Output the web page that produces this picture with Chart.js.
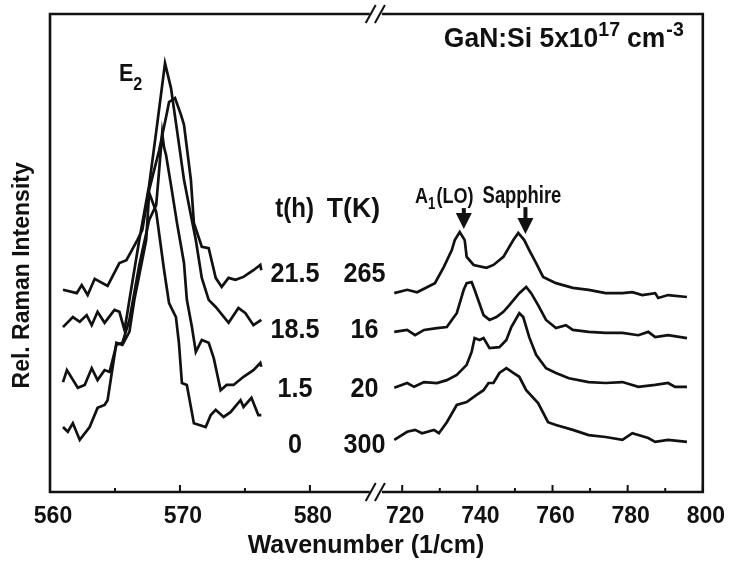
<!DOCTYPE html>
<html><head><meta charset="utf-8">
<script src="https://cdn.jsdelivr.net/npm/chart.js@4"></script>
<style>html,body{margin:0;padding:0;background:#fff}</style>
</head><body>
<canvas id="c" width="733" height="564"></canvas>
<script>
// ---------- tick values ----------
const leftTicks = [560, 570, 580];
const leftMinorTicks = [565, 575];
const rightTicks = [720, 740, 760, 780, 800];
const rightMinorTicks = [730, 750, 770, 790];

// ---------- series labels ----------
const tHours = ['21.5', '18.5', '1.5', '0'];
const tempK = ['265', '16', '20', '300'];

// ---------- E2 region (560-577 cm-1) ----------
const leftX_215 = [561.0,562.06,562.44,562.9,563.44,564.43,565.34,565.88,566.72,567.1,567.63,568.4,569.01,569.16,569.62,570.08,570.31,570.84,571.07,571.68,572.21,572.75,573.21,573.74,574.27,574.89,575.65,576.18,576.26];
const leftY_215 = [42.3,41.6,43.3,41.2,44.6,43.1,47.9,48.5,52.7,54.8,63.2,71.5,79.5,81.6,82.4,78.9,76.8,65.3,56.3,51.3,51.0,44.8,42.9,44.8,44.4,45.0,46.4,47.5,46.4];

const leftX_185 = [561.0,561.76,562.29,562.82,563.21,563.66,564.2,564.96,565.34,565.73,565.95,566.11,566.87,567.63,568.24,568.85,569.31,569.77,570.31,570.84,571.22,571.68,572.21,572.75,573.74,574.5,575.04,575.65,576.26];
const leftY_185 = [34.5,36.6,35.6,37.0,34.9,37.7,35.4,38.1,37.7,33.9,37.4,40.2,52.7,64.2,76.8,89.7,84.5,75.7,65.3,57.9,52.7,44.8,40.2,38.7,35.4,38.5,37.4,34.9,36.0];

const leftX_15 = [561.0,561.3,562.14,562.67,563.21,563.66,564.2,564.58,565.11,565.57,566.11,566.87,567.63,568.17,568.4,568.63,568.78,568.93,569.31,569.77,570.31,570.53,570.92,571.22,571.68,572.21,572.6,573.13,573.59,574.12,574.89,575.65,576.18,576.26];
const leftY_15 = [23.0,25.5,21.8,22.4,25.9,23.4,25.5,25.1,30.8,31.2,36.0,47.5,56.9,60.0,67.4,75.1,72.0,70.5,64.2,56.3,47.9,40.2,34.5,29.3,31.8,31.2,28.0,21.3,22.4,22.4,24.1,25.5,27.0,26.2];

const leftX_0 = [561.0,561.37,561.76,562.29,563.05,563.66,564.2,564.43,565.11,565.57,566.11,566.49,566.87,567.4,567.63,568.17,568.78,569.16,569.69,569.92,570.15,570.53,571.07,571.98,572.37,572.75,573.36,573.89,574.66,574.89,575.5,576.03,576.26];
const leftY_0 = [13.6,12.6,14.4,10.9,13.6,17.6,18.2,19.2,31.2,30.8,33.5,40.2,45.4,52.7,62.6,58.6,46.4,39.5,36.6,31.2,22.8,22.4,14.4,13.6,16.1,17.2,15.7,16.7,19.2,17.8,19.7,16.1,16.1];

// ---------- A1(LO) / sapphire region (718-796 cm-1) ----------
const rightX_215 = [717.89,721.32,723.96,728.71,731.09,733.2,733.99,735.31,736.63,737.16,739.01,742.44,744.29,746.93,749.57,750.89,752.48,753.8,755.64,757.49,760.92,765.41,769.64,774.13,778.61,781.25,783.89,787.33,788.12,790.76,795.78];
const rightY_215 = [41.6,42.3,41.8,43.7,47.1,50.6,52.7,54.4,52.7,49.2,47.5,46.9,47.5,49.2,52.7,54.2,52.7,50.6,47.9,45.0,43.7,42.7,42.3,41.6,41.6,41.8,41.2,41.6,40.6,41.2,40.8];

const rightX_185 = [717.89,721.32,723.43,725.81,729.24,731.88,733.2,734.52,736.37,737.16,738.48,739.27,741.65,743.23,745.08,746.93,748.51,751.16,753.0,754.32,756.17,758.28,760.92,763.56,765.41,769.64,774.13,778.61,782.84,785.48,787.33,790.76,795.78];
const rightY_185 = [33.5,33.9,32.8,33.9,34.3,34.5,36.0,37.4,42.3,43.7,43.9,42.3,37.0,36.0,36.6,37.7,39.1,41.6,42.9,41.6,39.1,36.0,34.3,34.9,33.9,33.5,33.3,33.3,32.8,33.5,32.4,32.8,32.2];

const rightX_15 = [717.89,721.32,723.17,725.81,729.24,731.88,734.52,737.16,738.48,739.27,740.59,741.65,743.23,745.87,747.72,749.04,751.16,752.21,753.8,755.64,758.28,760.92,764.36,769.64,774.13,778.61,782.84,787.33,790.76,792.61,795.78];
const rightY_15 = [21.8,22.8,22.0,23.0,22.8,23.4,24.5,26.6,29.3,32.2,31.8,32.2,30.1,30.3,31.8,34.5,37.4,36.6,32.4,28.7,25.9,24.9,23.8,23.0,22.8,23.0,22.0,22.4,22.8,22.0,22.0];

const rightX_0 = [717.89,721.32,723.43,725.28,728.45,729.77,731.88,734.52,737.16,739.8,741.65,742.97,744.29,745.87,747.72,749.57,751.16,753.0,756.17,758.81,760.92,765.41,769.64,774.13,778.61,781.25,785.48,787.33,790.76,795.78];
const rightY_0 = [10.9,12.6,13.0,12.3,13.0,12.3,14.6,18.2,18.8,20.3,21.3,22.8,22.8,24.9,25.9,24.9,24.1,21.3,18.6,14.6,14.0,13.0,11.9,11.5,10.9,12.3,11.3,10.5,10.9,10.5];

// ---------- axis break ----------
const BREAK_LEFT_END = 584.6;
const BREAK_RIGHT_START = 714.6;

const REG = "'Liberation Sans',Arial,Helvetica,sans-serif";
const INK = '#111';

function pts(xs, ys) { return xs.map((x, i) => ({x: x, y: ys[i]})); }
function ds(label, xs, ys, axis) {
  return {label: label, data: pts(xs, ys), xAxisID: axis, yAxisID: 'y',
    borderColor: INK, borderWidth: 2.7, pointRadius: 0, tension: 0, fill: false};
}

const datasets = [
  ds('E2 t=21.5 h, T=265 K', leftX_215, leftY_215, 'x'),
  ds('E2 t=18.5 h, T=16 K', leftX_185, leftY_185, 'x'),
  ds('E2 t=1.5 h, T=20 K', leftX_15, leftY_15, 'x'),
  ds('E2 t=0 h, T=300 K', leftX_0, leftY_0, 'x'),
  ds('A1(LO) t=21.5 h, T=265 K', rightX_215, rightY_215, 'x2'),
  ds('A1(LO) t=18.5 h, T=16 K', rightX_185, rightY_185, 'x2'),
  ds('A1(LO) t=1.5 h, T=20 K', rightX_15, rightY_15, 'x2'),
  ds('A1(LO) t=0 h, T=300 K', rightX_0, rightY_0, 'x2')
];

// condensed text helper (horizontal squeeze k)
function ctext(ctx, t, x, y, size, k, align) {
  ctx.save();
  ctx.font = 'bold ' + size + 'px ' + REG;
  ctx.translate(x, y); ctx.scale(k, 1);
  ctx.textAlign = align || 'left';
  ctx.fillText(t, 0, 0);
  const w = ctx.measureText(t).width * k;
  ctx.restore();
  return w;
}
function runs(ctx, x, y, parts) {
  let cx = x;
  for (const p of parts) {
    cx += ctext(ctx, p.t, cx, y + (p.dy || 0), p.size, p.k, 'left') + (p.gap || 0);
  }
}

const overlay = {
  id: 'overlay',
  afterDatasetsDraw(chart) {
    const ctx = chart.ctx, a = chart.chartArea;
    const xl = chart.scales.x, xr = chart.scales.x2, y = chart.scales.y;
    const bL = xl.getPixelForValue(BREAK_LEFT_END), bR = xr.getPixelForValue(BREAK_RIGHT_START);
    ctx.save();
    ctx.strokeStyle = INK; ctx.fillStyle = INK;
    ctx.lineWidth = 2.6; ctx.lineJoin = 'miter';
    ctx.beginPath();
    ctx.moveTo(bL, a.top); ctx.lineTo(a.left, a.top); ctx.lineTo(a.left, a.bottom); ctx.lineTo(bL, a.bottom);
    ctx.moveTo(bR, a.bottom); ctx.lineTo(a.right, a.bottom); ctx.lineTo(a.right, a.top); ctx.lineTo(bR, a.top);
    ctx.stroke();
    ctx.lineWidth = 2;
    for (const yy of [a.top, a.bottom]) {
      for (const xx of [bL + 1, bR - 2]) {
        ctx.beginPath(); ctx.moveTo(xx - 5, yy + 9); ctx.lineTo(xx + 5, yy - 9); ctx.stroke();
      }
    }
    // inward ticks
    ctx.lineWidth = 2;
    const tick = (sc, v, len) => { const px = sc.getPixelForValue(v); ctx.beginPath(); ctx.moveTo(px, a.bottom); ctx.lineTo(px, a.bottom - len); ctx.stroke(); };
    leftTicks.forEach(v => tick(xl, v, 7));
    leftMinorTicks.forEach(v => tick(xl, v, 4));
    rightTicks.forEach(v => tick(xr, v, 7));
    rightMinorTicks.forEach(v => tick(xr, v, 4));

    // labels
    ctx.textBaseline = 'alphabetic';
    runs(ctx, xl.getPixelForValue(565.3), y.getPixelForValue(86.0), [{t: 'E', size: 24, k: 0.9}, {t: '2', size: 18, k: 0.9, dy: 9}]);
    ctext(ctx, 't(h)', xl.getPixelForValue(577.33), y.getPixelForValue(57.5), 28, 0.86);
    ctext(ctx, 'T(K)', xl.getPixelForValue(581.3), y.getPixelForValue(57.5), 28, 0.95);
    const rowY = [43.9, 32.2, 19.9, 8.2];
    tHours.forEach((t, i) => ctext(ctx, t, xl.getPixelForValue(578.85), y.getPixelForValue(rowY[i]), 28, 0.9, 'center'));
    tempK.forEach((t, i) => ctext(ctx, t, xl.getPixelForValue(584.2), y.getPixelForValue(rowY[i]), 28, 0.9, 'center'));
    runs(ctx, xr.getPixelForValue(731.09), y.getPixelForValue(93.1),
      [{t: 'GaN:Si 5x10', size: 27, k: 0.98}, {t: '17', size: 20, k: 0.98, dy: -11, gap: 7}, {t: 'cm', size: 27, k: 0.98, gap: 1}, {t: '-3', size: 20, k: 0.98, dy: -11}]);
    runs(ctx, xr.getPixelForValue(723.43), y.getPixelForValue(60.5),
      [{t: 'A', size: 22, k: 0.82}, {t: '1', size: 16, k: 0.82, dy: 6, gap: 1}, {t: '(LO)', size: 22, k: 0.82}]);
    ctext(ctx, 'Sapphire', xr.getPixelForValue(741.4), y.getPixelForValue(60.5), 23, 0.8);

    // arrows
    const arrow = (wn, vTop, vTip) => {
      const px = xr.getPixelForValue(wn), t = y.getPixelForValue(vTop), p = y.getPixelForValue(vTip);
      ctx.lineWidth = 4;
      ctx.beginPath(); ctx.moveTo(px, t); ctx.lineTo(px, p - 12); ctx.stroke();
      ctx.beginPath(); ctx.moveTo(px - 8, p - 16); ctx.lineTo(px + 8, p - 16); ctx.lineTo(px, p); ctx.closePath(); ctx.fill();
    };
    arrow(736.4, 59.4, 55.0);
    arrow(752.8, 59.6, 54.0);
    ctx.restore();
  }
};

const tickFont = {family: REG, size: 23, weight: 'bold'};

new Chart(document.getElementById('c'), {
  type: 'line',
  data: {datasets: datasets},
  plugins: [overlay],
  options: {
    responsive: false, animation: false, devicePixelRatio: 1,
    layout: {padding: {top: 14, right: 25, left: 0, bottom: 0}},
    plugins: {legend: {display: false}, tooltip: {enabled: false}},
    scales: {
      x: {
        type: 'linear', position: 'bottom', min: 560, max: 610.23,
        afterBuildTicks: s => { s.ticks = leftTicks.map(v => ({value: v})); },
        afterFit: s => { s.height = 72; },
        grid: {display: false, drawTicks: false}, border: {display: false},
        ticks: {color: INK, padding: 11, labelOffset: 3, maxRotation: 0, autoSkip: false, font: tickFont},
        title: {display: true, text: 'Wavenumber (1/cm)   ', color: INK, padding: {top: 0, bottom: 3}, font: {family: REG, size: 25, weight: 'bold'}}
      },
      x2: {
        type: 'linear', position: {y: 0}, min: 626.27, max: 800,
        afterBuildTicks: s => { s.ticks = rightTicks.map(v => ({value: v})); },
        grid: {display: false, drawTicks: false}, border: {display: false},
        ticks: {color: INK, padding: 11, labelOffset: 3, maxRotation: 0, autoSkip: false, font: tickFont}
      },
      y: {
        min: 0, max: 100,
        afterFit: s => { s.width = 50; },
        grid: {display: false, drawTicks: false}, border: {display: false},
        ticks: {display: false},
        title: {display: true, text: 'Rel. Raman Intensity       ', color: INK, padding: {top: 9, bottom: 0}, font: {family: REG, size: 23, weight: 'bold'}}
      }
    }
  }
});
</script>
</body></html>
